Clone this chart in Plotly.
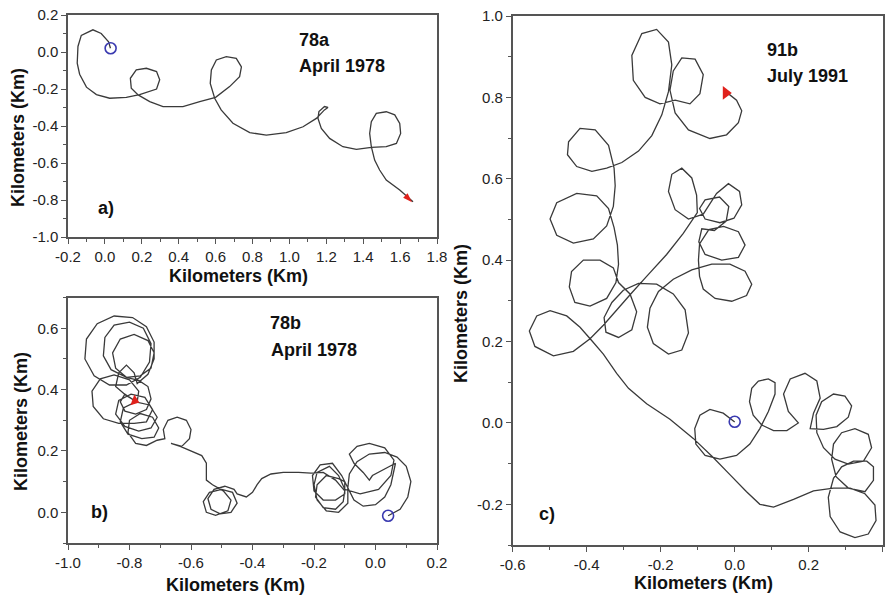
import plotly.graph_objects as go

# ---------------- data (km) ----------------
a_track = [(0.03, 0.02), (0.02, 0.055), (-0.02, 0.1), (-0.065, 0.12), (-0.128, 0.09), (-0.146, 0.03),
           (-0.15, -0.06), (-0.137, -0.12), (-0.1, -0.19), (-0.046, -0.23), (0.026, -0.25), (0.116, -0.245),
           (0.188, -0.23), (0.28, -0.2), (0.297, -0.15), (0.28, -0.106), (0.225, -0.088), (0.17, -0.097),
           (0.138, -0.142), (0.143, -0.196), (0.18, -0.232), (0.243, -0.268), (0.315, -0.295), (0.423, -0.295),
           (0.514, -0.268), (0.6, -0.245), (0.676, -0.187), (0.73, -0.133), (0.74, -0.08), (0.712, -0.034),
           (0.658, -0.025), (0.604, -0.043), (0.577, -0.097), (0.571, -0.17), (0.595, -0.25), (0.63, -0.313),
           (0.694, -0.385), (0.785, -0.436), (0.875, -0.449), (0.983, -0.436), (1.074, -0.404), (1.146, -0.359),
           (1.19, -0.313), (1.209, -0.3), (1.19, -0.295), (1.16, -0.322), (1.155, -0.359), (1.173, -0.413),
           (1.218, -0.467), (1.29, -0.512), (1.363, -0.526), (1.444, -0.515), (1.525, -0.512), (1.58, -0.494),
           (1.603, -0.44), (1.598, -0.386), (1.571, -0.34), (1.525, -0.323), (1.471, -0.332), (1.444, -0.377),
           (1.435, -0.44), (1.444, -0.512), (1.462, -0.584), (1.489, -0.638), (1.525, -0.692), (1.598, -0.746),
           (1.67, -0.81)]

b_track = [(0.041, -0.011), (0.08, 0.01), (0.105, 0.05), (0.115, 0.1), (0.1, 0.15), (0.07, 0.18), (0.03, 0.195),
           (-0.02, 0.19), (-0.06, 0.165), (-0.085, 0.125), (-0.09, 0.08), (-0.07, 0.04), (-0.04, 0.02),
           (0.0, 0.025), (0.03, 0.05), (0.05, 0.09), (0.065, 0.16), (-0.01, 0.12), (-0.02, 0.105), (-0.04, 0.13),
           (-0.07, 0.16), (-0.085, 0.19), (-0.06, 0.215), (-0.02, 0.225), (0.03, 0.21), (0.06, 0.17), (0.05, 0.12),
           (0.01, 0.075), (-0.05, 0.06), (-0.1, 0.075), (-0.12, 0.12), (-0.15, 0.15), (-0.19, 0.13), (-0.2, 0.09),
           (-0.19, 0.04), (-0.16, 0.005), (-0.12, 0.0), (-0.09, 0.03), (-0.09, 0.08), (-0.11, 0.12), (-0.14, 0.16),
           (-0.18, 0.155), (-0.205, 0.12), (-0.2, 0.07), (-0.17, 0.04), (-0.13, 0.04), (-0.1, 0.06), (-0.1, 0.1),
           (-0.12, 0.11), (-0.16, 0.12), (-0.19, 0.09), (-0.195, 0.05), (-0.17, 0.015), (-0.13, 0.01),
           (-0.105, 0.035), (-0.1, 0.07), (-0.13, 0.105), (-0.17, 0.13), (-0.21, 0.128), (-0.25, 0.13),
           (-0.3, 0.13), (-0.34, 0.125), (-0.37, 0.11), (-0.385, 0.09), (-0.4, 0.065), (-0.42, 0.05),
           (-0.45, 0.06), (-0.46, 0.075), (-0.49, 0.085), (-0.525, 0.075), (-0.545, 0.045), (-0.535, 0.01),
           (-0.505, -0.005), (-0.47, 0.0), (-0.45, 0.03), (-0.465, 0.065), (-0.5, 0.075), (-0.54, 0.065),
           (-0.56, 0.035), (-0.55, 0.0), (-0.52, -0.01), (-0.48, 0.005), (-0.47, 0.04), (-0.495, 0.07),
           (-0.53, 0.09), (-0.55, 0.105), (-0.55, 0.13), (-0.55, 0.16), (-0.565, 0.185), (-0.6, 0.2),
           (-0.635, 0.215), (-0.665, 0.225), (-0.63, 0.215), (-0.605, 0.24), (-0.6, 0.27), (-0.615, 0.3),
           (-0.645, 0.31), (-0.675, 0.3), (-0.69, 0.27), (-0.685, 0.24), (-0.71, 0.235), (-0.745, 0.218),
           (-0.78, 0.225), (-0.805, 0.26), (-0.8, 0.3), (-0.765, 0.322), (-0.725, 0.31), (-0.705, 0.275),
           (-0.72, 0.245), (-0.76, 0.24), (-0.805, 0.255), (-0.83, 0.295), (-0.82, 0.34), (-0.78, 0.36),
           (-0.735, 0.35), (-0.71, 0.31), (-0.73, 0.275), (-0.77, 0.265), (-0.815, 0.28), (-0.845, 0.32),
           (-0.835, 0.365), (-0.795, 0.385), (-0.75, 0.375), (-0.725, 0.335), (-0.745, 0.295), (-0.785, 0.29),
           (-0.835, 0.29), (-0.885, 0.305), (-0.918, 0.345), (-0.922, 0.395), (-0.895, 0.435), (-0.85, 0.448),
           (-0.8, 0.432), (-0.77, 0.395), (-0.775, 0.36), (-0.81, 0.38), (-0.845, 0.41), (-0.835, 0.455),
           (-0.81, 0.48), (-0.785, 0.455), (-0.775, 0.42), (-0.74, 0.45), (-0.72, 0.5), (-0.72, 0.555),
           (-0.745, 0.605), (-0.79, 0.635), (-0.85, 0.64), (-0.905, 0.615), (-0.94, 0.565), (-0.945, 0.5),
           (-0.915, 0.445), (-0.865, 0.415), (-0.81, 0.415), (-0.765, 0.44), (-0.735, 0.49), (-0.73, 0.55),
           (-0.755, 0.6), (-0.8, 0.62), (-0.85, 0.61), (-0.88, 0.57), (-0.885, 0.51), (-0.86, 0.465),
           (-0.81, 0.44), (-0.765, 0.445), (-0.73, 0.47), (-0.72, 0.52), (-0.74, 0.56), (-0.785, 0.58),
           (-0.83, 0.565), (-0.855, 0.52), (-0.845, 0.47), (-0.81, 0.44), (-0.77, 0.43), (-0.74, 0.41),
           (-0.73, 0.37), (-0.745, 0.335), (-0.78, 0.32), (-0.815, 0.33), (-0.83, 0.36), (-0.815, 0.385),
           (-0.785, 0.365)]

c_track = [(0.0, 0.002), (-0.031, 0.024), (-0.067, 0.033), (-0.094, 0.019), (-0.108, -0.014), (-0.105, -0.052),
           (-0.08, -0.08), (-0.04, -0.089), (0.005, -0.08), (0.041, -0.052), (0.068, -0.014), (0.091, 0.028),
           (0.109, 0.071), (0.109, 0.099), (0.091, 0.108), (0.064, 0.103), (0.046, 0.085), (0.04, 0.052),
           (0.05, 0.019), (0.073, -0.005), (0.105, -0.019), (0.141, -0.019), (0.172, 0.0), (0.145, 0.028),
           (0.132, 0.071), (0.15, 0.108), (0.19, 0.122), (0.222, 0.103), (0.231, 0.061), (0.213, 0.024),
           (0.204, -0.014), (0.24, -0.016), (0.276, -0.009), (0.307, 0.014), (0.316, 0.042), (0.298, 0.066),
           (0.267, 0.071), (0.235, 0.052), (0.22, 0.019), (0.222, -0.024), (0.24, -0.061), (0.271, -0.089),
           (0.307, -0.101), (0.348, -0.094), (0.37, -0.061), (0.361, -0.028), (0.325, -0.014), (0.289, -0.024),
           (0.267, -0.052), (0.262, -0.089), (0.274, -0.132), (0.307, -0.16), (0.352, -0.169), (0.375, -0.141),
           (0.375, -0.108), (0.357, -0.094), (0.321, -0.094), (0.289, -0.108), (0.267, -0.136), (0.253, -0.183),
           (0.258, -0.23), (0.285, -0.268), (0.325, -0.282), (0.361, -0.273), (0.382, -0.24), (0.379, -0.202),
           (0.352, -0.174), (0.312, -0.16), (0.267, -0.16), (0.213, -0.167), (0.159, -0.188), (0.105, -0.207),
           (0.068, -0.2), (0.032, -0.169), (-0.013, -0.127), (-0.058, -0.085), (-0.112, -0.038),
           (-0.175, 0.009), (-0.238, 0.047), (-0.287, 0.085), (-0.319, 0.122), (-0.355, 0.169), (-0.386, 0.202),
           (-0.418, 0.235), (-0.454, 0.263), (-0.499, 0.276), (-0.535, 0.263), (-0.555, 0.226), (-0.54, 0.188),
           (-0.49, 0.165), (-0.436, 0.176), (-0.391, 0.207), (-0.355, 0.24), (-0.319, 0.278), (-0.278, 0.32),
           (-0.238, 0.36), (-0.184, 0.414), (-0.139, 0.466), (-0.101, 0.517), (-0.103, 0.56), (-0.116, 0.602),
           (-0.143, 0.626), (-0.17, 0.611), (-0.179, 0.569), (-0.161, 0.524), (-0.125, 0.501), (-0.085, 0.513),
           (-0.049, 0.564), (-0.017, 0.588), (0.013, 0.569), (0.019, 0.536), (-0.002, 0.503), (-0.04, 0.492),
           (-0.08, 0.501), (-0.095, 0.527), (-0.08, 0.548), (-0.041, 0.555), (-0.016, 0.532), (-0.023, 0.496),
           (-0.055, 0.473), (-0.089, 0.477), (-0.097, 0.445), (-0.08, 0.414), (-0.035, 0.4), (0.01, 0.407),
           (0.028, 0.437), (0.01, 0.47), (-0.03, 0.483), (-0.07, 0.475), (-0.095, 0.44), (-0.098, 0.4),
           (-0.095, 0.36), (-0.085, 0.329), (-0.053, 0.306), (-0.008, 0.299), (0.032, 0.313), (0.046, 0.341),
           (0.028, 0.373), (-0.013, 0.39), (-0.062, 0.39), (-0.116, 0.376), (-0.166, 0.353), (-0.206, 0.323),
           (-0.229, 0.282), (-0.236, 0.235), (-0.22, 0.195), (-0.179, 0.169), (-0.143, 0.179), (-0.125, 0.221),
           (-0.134, 0.278), (-0.166, 0.317), (-0.211, 0.341), (-0.26, 0.343), (-0.301, 0.326), (-0.332, 0.296),
           (-0.353, 0.259), (-0.348, 0.223), (-0.314, 0.21), (-0.278, 0.229), (-0.265, 0.273), (-0.283, 0.317),
           (-0.314, 0.345), (-0.328, 0.381), (-0.364, 0.4), (-0.409, 0.4), (-0.441, 0.372), (-0.447, 0.334),
           (-0.432, 0.296), (-0.391, 0.287), (-0.346, 0.306), (-0.321, 0.345), (-0.314, 0.39), (-0.317, 0.437),
           (-0.326, 0.48), (-0.341, 0.527), (-0.373, 0.558), (-0.427, 0.564), (-0.481, 0.541), (-0.499, 0.501),
           (-0.481, 0.461), (-0.436, 0.442), (-0.382, 0.452), (-0.346, 0.484), (-0.328, 0.532), (-0.323, 0.583),
           (-0.326, 0.626), (-0.341, 0.682), (-0.377, 0.72), (-0.418, 0.724), (-0.449, 0.691), (-0.452, 0.659),
           (-0.427, 0.63), (-0.386, 0.618), (-0.346, 0.626), (-0.305, 0.64), (-0.26, 0.668), (-0.224, 0.706),
           (-0.197, 0.757), (-0.179, 0.814), (-0.17, 0.88), (-0.179, 0.936), (-0.211, 0.967), (-0.251, 0.957),
           (-0.278, 0.903), (-0.274, 0.842), (-0.242, 0.8), (-0.202, 0.784), (-0.161, 0.793), (-0.121, 0.784),
           (-0.094, 0.809), (-0.085, 0.856), (-0.107, 0.894), (-0.143, 0.897), (-0.166, 0.865), (-0.175, 0.818),
           (-0.161, 0.762), (-0.125, 0.72), (-0.067, 0.699), (-0.022, 0.708), (0.01, 0.738), (0.019, 0.767),
           (0.005, 0.793), (-0.013, 0.806), (-0.031, 0.812)]

a_start, a_end = (0.031, 0.02), (1.665, -0.812)
b_start, b_end = (0.041, -0.011), (-0.783, 0.364)
c_start, c_end = (0.0, 0.003), (-0.024, 0.811)

a_xticks = [-0.2, 0.0, 0.2, 0.4, 0.6, 0.8, 1.0, 1.2, 1.4, 1.6, 1.8]
a_yticks = [-1.0, -0.8, -0.6, -0.4, -0.2, 0.0, 0.2]
b_xticks = [-1.0, -0.8, -0.6, -0.4, -0.2, 0.0, 0.2]
b_yticks = [0.0, 0.2, 0.4, 0.6]
c_xticks = [-0.6, -0.4, -0.2, 0.0, 0.2, 0.4]
c_yticks = [-0.2, 0.0, 0.2, 0.4, 0.6, 0.8, 1.0]

# ---------------- figure ----------------
W, H = 889, 601
FONT = "Liberation Sans, Arial, sans-serif"
LINE = "#3a3a3a"
AX = "#555555"
BLUE = "#3a3ab0"
RED = "#e0211c"

fig = go.Figure()

panels = [
    ("x", "y", a_track, a_start, a_end, "arrow", 135, 10),
    ("x2", "y2", b_track, b_start, b_end, "triangle-right", 20, 10),
    ("x3", "y3", c_track, c_start, c_end, "triangle-right", 0, 12),
]
for xa, ya, track, st, en, sym, ang, sz in panels:
    fig.add_trace(go.Scatter(x=[p[0] for p in track], y=[p[1] for p in track], mode="lines",
                             line=dict(color=LINE, width=1.3), xaxis=xa, yaxis=ya, showlegend=False))
    fig.add_trace(go.Scatter(x=[st[0]], y=[st[1]], mode="markers",
                             marker=dict(symbol="circle-open", size=11, color=BLUE, line=dict(width=1.6, color=BLUE)),
                             xaxis=xa, yaxis=ya, showlegend=False))
    fig.add_trace(go.Scatter(x=[en[0]], y=[en[1]], mode="markers",
                             marker=dict(symbol=sym, size=sz, color=RED, angle=ang, line=dict(width=0)),
                             xaxis=xa, yaxis=ya, showlegend=False))


def px_x(v):
    return v / W


def px_y(v):
    return 1 - v / H


def axis(dom, rng, ticks, anchor):
    return dict(domain=dom, range=rng, anchor=anchor, tickmode="array", tickvals=ticks,
                ticktext=[f"{t:.1f}" for t in ticks], ticks="outside", ticklen=5, tickwidth=1.3,
                tickcolor=AX, showline=True, linecolor=AX, linewidth=1.5, mirror=True,
                showgrid=False, zeroline=False, automargin=False,
                tickfont=dict(family=FONT, size=15, color="#222222"),
                minor=dict(tickmode="linear", tick0=0, dtick=0.1, ticks="outside", ticklen=3,
                           tickwidth=1.2, tickcolor=AX, showgrid=False))


fig.update_layout(
    width=W, height=H, margin=dict(l=0, r=0, t=0, b=0),
    paper_bgcolor="white", plot_bgcolor="white",
    xaxis=axis([px_x(68), px_x(437)], [-0.2, 1.8], a_xticks, "y"),
    yaxis=axis([px_y(237), px_y(15)], [-1.0, 0.2], a_yticks, "x"),
    xaxis2=axis([px_x(68), px_x(437)], [-1.0, 0.2], b_xticks, "y2"),
    yaxis2=axis([px_y(543), px_y(297.6)], [-0.1, 0.7], b_yticks, "x2"),
    xaxis3=axis([px_x(512.7), px_x(882.7)], [-0.6, 0.4], c_xticks, "y3"),
    yaxis3=axis([px_y(545), px_y(16)], [-0.3, 1.0], c_yticks, "x3"),
)

TITLE = "Kilometers (Km)"
ann = []


def txt(x, y, s, size=18, angle=0, anchor="center"):
    ann.append(dict(x=px_x(x), y=px_y(y), xref="paper", yref="paper", text=f"<b>{s}</b>",
                    showarrow=False, textangle=angle, xanchor=anchor, yanchor="middle",
                    font=dict(family=FONT, size=size, color="#111111")))


txt(238, 276, TITLE)
txt(18, 138, TITLE, angle=-90)
txt(235, 585, TITLE)
txt(21, 422, TITLE, angle=-90)
txt(703, 583, TITLE)
txt(461, 314, TITLE, angle=-90)

txt(297, 40, "78a", 18, anchor="left")
txt(297, 66, "April 1978", 18, anchor="left")
txt(96, 208, "a)", 18, anchor="left")
txt(268, 323, "78b", 18, anchor="left")
txt(269, 350, "April 1978", 18, anchor="left")
txt(89, 512, "b)", 18, anchor="left")
txt(765, 50, "91b", 18, anchor="left")
txt(765, 76, "July 1991", 18, anchor="left")
txt(537, 514, "c)", 18, anchor="left")

fig.update_layout(annotations=ann)
fig.write_html("out.html")
